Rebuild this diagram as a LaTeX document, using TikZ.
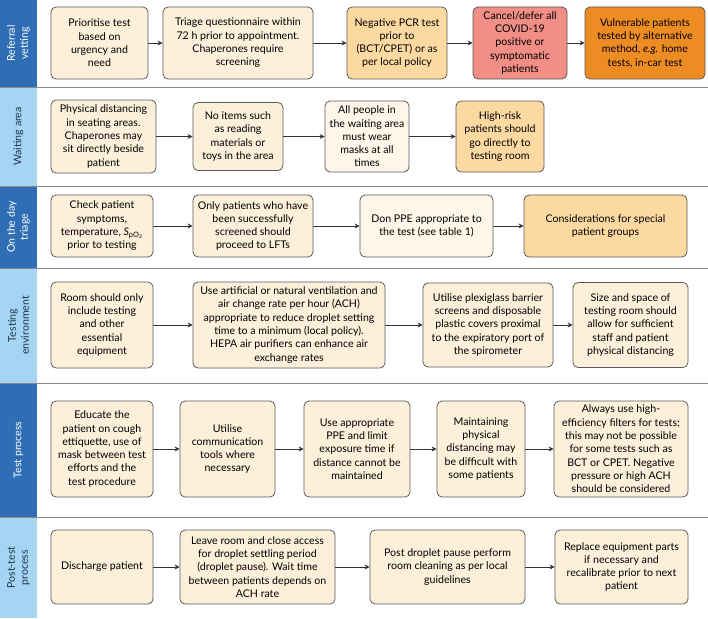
\documentclass[tikz,border=0pt]{standalone}
\usepackage{fontspec}
\setmainfont{Lato}
\usetikzlibrary{arrows.meta}
\definecolor{bandDark}{HTML}{2F6DB5}
\definecolor{bandLight}{HTML}{A5D5F2}
\definecolor{bandInk}{HTML}{1E3553}
\definecolor{creamBox}{HTML}{FDF0DA}
\definecolor{paleBox}{HTML}{FEF6E8}
\definecolor{peachBox}{HTML}{FDD9A2}
\definecolor{salmonBox}{HTML}{F18E86}
\definecolor{orangeBox}{HTML}{EE8C24}
\definecolor{edgeGrey}{HTML}{5A5A5A}
\definecolor{rule}{HTML}{8A8A8A}
\begin{document}
\begin{tikzpicture}[x=1pt,y=-1pt,>={Stealth[length=5pt,width=5pt]},
  box/.style={draw=edgeGrey, line width=.8pt, rounded corners=5pt, fill=creamBox, align=center,
    font=\fontsize{10.6}{13.3}\selectfont, inner sep=2pt},
  bandtext/.style={rotate=90, align=center, font=\fontsize{10.6}{13}\selectfont},
  flow/.style={->, draw=black!80, line width=.8pt}]
\useasboundingbox (0,0) rectangle (708,618);
% side bands
\fill[bandDark] (0,0) rectangle (37,87);
\fill[bandLight] (0,87) rectangle (37,186);
\fill[bandDark] (0,186) rectangle (37,268);
\fill[bandLight] (0,268) rectangle (37,383);
\fill[bandDark] (0,383) rectangle (37,517);
\fill[bandLight] (0,517) rectangle (37,618);
\foreach \y in {87,186,268,383,517}
  \draw[rule, line width=.9pt] (0,\y) -- (708,\y);
\node[bandtext, text=white] (lab1) at (18.5,43.5) {Referral\\vetting};
\node[bandtext, text=bandInk] (lab2) at (18.5,136.5) {Waiting area};
\node[bandtext, text=white] (lab3) at (18.5,227) {On the day\\triage};
\node[bandtext, text=bandInk] (lab4) at (18.5,325.5) {Testing\\environment};
\node[bandtext, text=white] (lab5) at (18.5,450) {Test process};
\node[bandtext, text=bandInk] (lab6) at (18.5,567.5) {Post-test\\process};

% referral vetting
\node[box, minimum width=97pt, minimum height=72pt] (rv1) at (99.5,43) {Prioritise test\\based on\\urgency and\\need};
\node[box, minimum width=150pt, minimum height=72pt] (rv2) at (238,43) {Triage questionnaire within\\72 h prior to appointment.\\Chaperones require\\screening};
\node[box, fill=peachBox, minimum width=100pt, minimum height=72pt] (rv3) at (397,43) {Negative PCR test\\prior to\\(BCT/CPET) or as\\per local policy};
\node[box, fill=salmonBox, minimum width=94pt, minimum height=72pt] (rv4) at (520,43) {Cancel/defer all\\COVID-19\\positive or\\symptomatic\\patients};
\node[box, fill=orangeBox, minimum width=120pt, minimum height=72pt] (rv5) at (645,43) {Vulnerable patients\\tested by alternative\\method, \textit{e.g.} home\\tests, in-car test};
\draw[flow] (rv1) -- (rv2);
\draw[flow] (rv2) -- (rv3);
\draw[flow] (rv3) -- (rv4);
\draw[flow] (rv4) -- (rv5);

% waiting area
\node[box, minimum width=105pt, minimum height=73pt] (wa1) at (103.5,136.5) {Physical distancing\\in seating areas.\\Chaperones may\\sit directly beside\\patient};
\node[box, minimum width=90pt, minimum height=68pt] (wa2) at (238,136.5) {No items such\\as reading\\materials or\\toys in the area};
\node[box, fill=paleBox, minimum width=84pt, minimum height=71pt] (wa3) at (367,136.5) {All people in\\the waiting area\\must wear\\masks at all\\times};
\node[box, fill=peachBox, minimum width=88pt, minimum height=71pt] (wa4) at (500,136.5) {High-risk\\patients should\\go directly to\\testing room};
\draw[flow] (wa1) -- (wa2);
\draw[flow] (wa2) -- (wa3);
\draw[flow] (wa3) -- (wa4);

% on the day triage
\node[box, minimum width=102pt, minimum height=62pt] (dt1) at (102,226) {Check patient\\symptoms,\\temperature, \textit{S}\textsubscript{pO\textsubscript{2}}\\prior to testing};
\node[box, minimum width=120pt, minimum height=62pt] (dt2) at (253,226) {Only patients who have\\been successfully\\screened should\\proceed to LFTs};
\node[box, fill=paleBox, minimum width=133pt, minimum height=62pt] (dt3) at (426.5,226) {Don PPE appropriate to\\the test (see table 1)};
\node[box, fill=peachBox, minimum width=163pt, minimum height=62pt] (dt4) at (605.5,226) {Considerations for special\\patient groups};
\draw[flow] (dt1) -- (dt2);
\draw[flow] (dt2) -- (dt3);
\draw[flow] (dt3) -- (dt4);

% testing environment
\node[box, minimum width=102pt, minimum height=86pt] (te1) at (102,325) {Room should only\\include testing\\and other\\essential\\equipment};
\node[box, minimum width=192pt, minimum height=86pt] (te2) at (289,325) {Use artificial or natural ventilation and\\air change rate per hour (ACH)\\appropriate to reduce droplet setting\\time to a minimum (local policy).\\HEPA air purifiers can enhance air\\exchange rates};
\node[box, minimum width=130pt, minimum height=84pt] (te3) at (488,325) {Utilise plexiglass barrier\\screens and disposable\\plastic covers proximal\\to the expiratory port of\\the spirometer};
\node[box, minimum width=115pt, minimum height=85pt] (te4) at (630.5,325) {Size and space of\\testing room should\\allow for sufficient\\staff and patient\\physical distancing};
\draw[flow] (te1) -- (te2);
\draw[flow] (te2) -- (te3);
\draw[flow] (te3) -- (te4);

% test process
\node[box, minimum width=102pt, minimum height=96pt] (tp1) at (102,449) {Educate the\\patient on cough\\ettiquette, use of\\mask between test\\efforts and the\\test procedure};
\node[box, minimum width=95pt, minimum height=96pt] (tp2) at (227.5,449) {Utilise\\communication\\tools where\\necessary};
\node[box, minimum width=106pt, minimum height=96pt] (tp3) at (357,449) {Use appropriate\\PPE and limit\\exposure time if\\distance cannot be\\maintained};
\node[box, minimum width=88pt, minimum height=96pt] (tp4) at (481,449) {Maintaining\\physical\\distancing may\\be difficult with\\some patients};
\node[box, minimum width=134pt, minimum height=96pt] (tp5) at (621,449) {Always use high-\\efficiency filters for tests;\\this may not be possible\\for some tests such as\\BCT or CPET. Negative\\pressure or high ACH\\should be considered};
\draw[flow] (tp1) -- (tp2);
\draw[flow] (tp2) -- (tp3);
\draw[flow] (tp3) -- (tp4);
\draw[flow] (tp4) -- (tp5);

% post-test process
\node[box, minimum width=102pt, minimum height=74pt] (pt1) at (102,567) {Discharge patient};
\node[box, minimum width=155pt, minimum height=74pt] (pt2) at (257.5,567) {Leave room and close access\\for droplet settling period\\(droplet pause). Wait time\\between patients depends on\\ACH rate};
\node[box, minimum width=155pt, minimum height=74pt] (pt3) at (447.5,567) {Post droplet pause perform\\room cleaning as per local\\guidelines};
\node[box, minimum width=133pt, minimum height=74pt] (pt4) at (621.5,567) {Replace equipment parts\\if necessary and\\recalibrate prior to next\\patient};
\draw[flow] (pt1) -- (pt2);
\draw[flow] (pt2) -- (pt3);
\draw[flow] (pt3) -- (pt4);
\end{tikzpicture}
\end{document}
